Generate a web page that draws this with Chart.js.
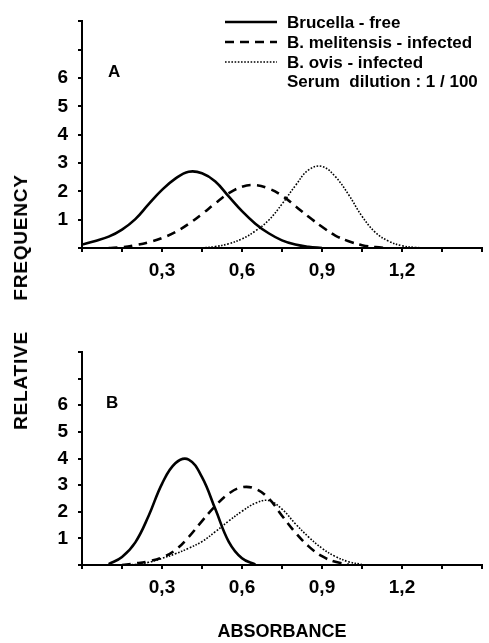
<!DOCTYPE html>
<html>
<head>
<meta charset="utf-8">
<script src="https://cdn.jsdelivr.net/npm/chart.js@4.4.1/dist/chart.umd.min.js"></script>
<style>
  html, body { margin: 0; padding: 0; background: #fff; }
  #page { position: relative; width: 489px; height: 643px; overflow: hidden; }
  .panel { position: absolute; left: 0; width: 489px; }
  #panel-a { top: 0; height: 300px; }
  #panel-b { top: 330px; height: 313px; }
  #ytitle {
    position: absolute; left: 21px; top: 302px;
    transform: translate(-50%, -50%) rotate(-90deg);
    font: bold 19px 'Liberation Sans', Arial, sans-serif;
    white-space: pre; color: #000; letter-spacing: 0.8px;
  }
</style>
</head>
<body>
<div id="page">
  <div class="panel" id="panel-a"><canvas id="chart-a" width="489" height="300"></canvas></div>
  <div class="panel" id="panel-b"><canvas id="chart-b" width="489" height="313"></canvas></div>
  <div id="ytitle">RELATIVE     FREQUENCY</div>
</div>
<script>
// Density curves (absorbance vs relative frequency), 0.05 steps

// Panel A
const A_FREE_X = [0, 0.05, 0.10, 0.15, 0.20, 0.25, 0.30, 0.35, 0.40, 0.45, 0.50, 0.55, 0.60, 0.65, 0.70, 0.75, 0.80, 0.85, 0.90];
const A_FREE_Y = [0.12, 0.25, 0.40, 0.65, 1.02, 1.55, 2.05, 2.45, 2.69, 2.64, 2.35, 1.82, 1.30, 0.86, 0.52, 0.27, 0.12, 0.04, 0];
const A_MEL_X = [0.10, 0.15, 0.20, 0.25, 0.30, 0.35, 0.40, 0.45, 0.50, 0.55, 0.60, 0.65, 0.70, 0.75, 0.80, 0.85, 0.90, 0.95, 1.00, 1.05, 1.10, 1.15];
const A_MEL_Y = [0, 0.03, 0.10, 0.20, 0.35, 0.56, 0.85, 1.20, 1.58, 1.93, 2.16, 2.22, 2.10, 1.85, 1.48, 1.10, 0.75, 0.44, 0.24, 0.10, 0.03, 0];
const A_OVIS_X = [0.45, 0.50, 0.55, 0.60, 0.65, 0.70, 0.75, 0.80, 0.85, 0.90, 0.95, 1.00, 1.05, 1.10, 1.15, 1.20, 1.25, 1.30];
const A_OVIS_Y = [0, 0.05, 0.15, 0.32, 0.60, 0.98, 1.55, 2.20, 2.76, 2.88, 2.52, 1.88, 1.12, 0.55, 0.24, 0.08, 0.02, 0];

// Panel B
const B_FREE_X = [0.10, 0.15, 0.20, 0.25, 0.30, 0.35, 0.40, 0.45, 0.50, 0.55, 0.60, 0.65];
const B_FREE_Y = [0.03, 0.30, 0.85, 1.85, 3.05, 3.82, 3.96, 3.30, 2.10, 0.88, 0.25, 0.02];
const B_MEL_X = [0.15, 0.20, 0.25, 0.30, 0.35, 0.40, 0.45, 0.50, 0.55, 0.60, 0.65, 0.70, 0.75, 0.80, 0.85, 0.90, 0.95, 1.00];
const B_MEL_Y = [0, 0.06, 0.14, 0.28, 0.56, 1.05, 1.65, 2.22, 2.68, 2.92, 2.86, 2.50, 1.85, 1.22, 0.70, 0.33, 0.12, 0.02];
const B_OVIS_X = [0.15, 0.20, 0.25, 0.30, 0.35, 0.40, 0.45, 0.50, 0.55, 0.60, 0.65, 0.70, 0.75, 0.80, 0.85, 0.90, 0.95, 1.00, 1.05];
const B_OVIS_Y = [0, 0.02, 0.10, 0.25, 0.42, 0.63, 0.88, 1.25, 1.65, 2.02, 2.32, 2.42, 2.10, 1.55, 1.05, 0.63, 0.32, 0.12, 0.02];

// Axis tick labels
const X_LABELS = [0.3, 0.6, 0.9, 1.2];
const Y_LABELS = [1, 2, 3, 4, 5, 6];

const SERIES_NAMES = ['Brucella - free', 'B. melitensis - infected', 'B. ovis - infected'];
const NOTE = 'Serum  dilution : 1 / 100';

const INK = '#000';
const FONT = "'Liberation Sans Narrow', 'Liberation Sans', Arial, sans-serif";

// line styles: solid / dashed / dotted
const STYLES = [
    { width: 2.6, dash: [] },
    { width: 2.6, dash: [9, 6] },
    { width: 1.6, dash: [1.6, 1.6] },
];

function pts(xs, ys) {
    return xs.map((x, i) => ({ x: x, y: ys[i] }));
}

function lineSet(label, data, style) {
    return {
        label: label,
        data: data,
        borderColor: INK,
        borderWidth: style.width,
        borderDash: style.dash,
        pointRadius: 0,
        fill: false,
        tension: 0.4,
    };
}

function xTick(v) {
    const r = Math.round(v * 100) / 100;
    return X_LABELS.includes(r) ? r.toFixed(1).replace('.', ',') : '';
}

function yTick(v) {
    return Y_LABELS.includes(v) ? String(v) : '';
}

// Panel letter + (panel A only) the line-style legend
const decor = {
    id: 'decor',
    afterDraw(chart, args, o) {
        const ctx = chart.ctx;
        ctx.save();
        ctx.fillStyle = INK;
        ctx.textBaseline = 'middle';
        ctx.font = "bold 17px 'Liberation Sans', Arial, sans-serif";
        ctx.fillText(o.letter, o.lx, o.ly);

        if (o.legend) {
            ctx.font = "bold 17px " + FONT;
            const rows = [22, 42, 62, 82];
            SERIES_NAMES.forEach((name, i) => {
                ctx.strokeStyle = INK;
                ctx.lineWidth = STYLES[i].width;
                ctx.setLineDash(STYLES[i].dash);
                ctx.beginPath();
                ctx.moveTo(225, rows[i]);
                ctx.lineTo(277, rows[i]);
                ctx.stroke();
                ctx.fillText(name, 287, rows[i] + 1);
            });
            ctx.setLineDash([]);
            ctx.fillText(NOTE, 287, rows[3]);
        }
        ctx.restore();
    }
};

function makeChart(id, sets, cfg) {
    return new Chart(document.getElementById(id), {
        type: 'line',
        data: { datasets: sets },
        options: {
            responsive: false,
            animation: false,
            layout: { padding: { top: cfg.top, right: 2, left: 0, bottom: 0 } },
            plugins: {
                legend: { display: false },
                tooltip: { enabled: false },
                decor: cfg.decor,
            },
            scales: {
                x: {
                    type: 'linear', min: 0, max: 1.5,
                    border: { display: true, color: INK, width: 2 },
                    grid: { drawOnChartArea: false, drawTicks: true, tickLength: 4, color: INK, lineWidth: 2 },
                    ticks: {
                        stepSize: 0.15, autoSkip: false, maxRotation: 0, padding: 7, color: INK,
                        font: { family: FONT, size: 19, weight: 'bold' },
                        callback: xTick,
                    },
                    title: cfg.xTitle ? {
                        display: true, text: cfg.xTitle, color: INK, align: 'center',
                        font: { family: "'Liberation Sans', Arial, sans-serif", size: 18, weight: 'bold' },
                        padding: { top: 0, bottom: 0 },
                    } : { display: false },
                    afterFit: s => { s.height = cfg.xHeight; },
                },
                y: {
                    type: 'linear', min: 0, max: 8,
                    border: { display: true, color: INK, width: 2 },
                    grid: { drawOnChartArea: false, drawTicks: true, tickLength: 4, color: INK, lineWidth: 2 },
                    ticks: {
                        stepSize: 1, autoSkip: false, padding: 10, color: INK,
                        font: { family: FONT, size: 19, weight: 'bold' },
                        callback: yTick,
                    },
                    afterFit: s => { s.width = 82; },
                },
            },
        },
        plugins: [decor],
    });
}

makeChart('chart-a', [
    lineSet(SERIES_NAMES[0], pts(A_FREE_X, A_FREE_Y), STYLES[0]),
    lineSet(SERIES_NAMES[1], pts(A_MEL_X, A_MEL_Y), STYLES[1]),
    lineSet(SERIES_NAMES[2], pts(A_OVIS_X, A_OVIS_Y), STYLES[2]),
], { top: 13, xHeight: 52, decor: { letter: 'A', lx: 108, ly: 72, legend: true } });

makeChart('chart-b', [
    lineSet(SERIES_NAMES[0], pts(B_FREE_X, B_FREE_Y), STYLES[0]),
    lineSet(SERIES_NAMES[1], pts(B_MEL_X, B_MEL_Y), STYLES[1]),
    lineSet(SERIES_NAMES[2], pts(B_OVIS_X, B_OVIS_Y), STYLES[2]),
], { top: 22, xHeight: 78, xTitle: 'ABSORBANCE', decor: { letter: 'B', lx: 106, ly: 73, legend: false } });
</script>
</body>
</html>
